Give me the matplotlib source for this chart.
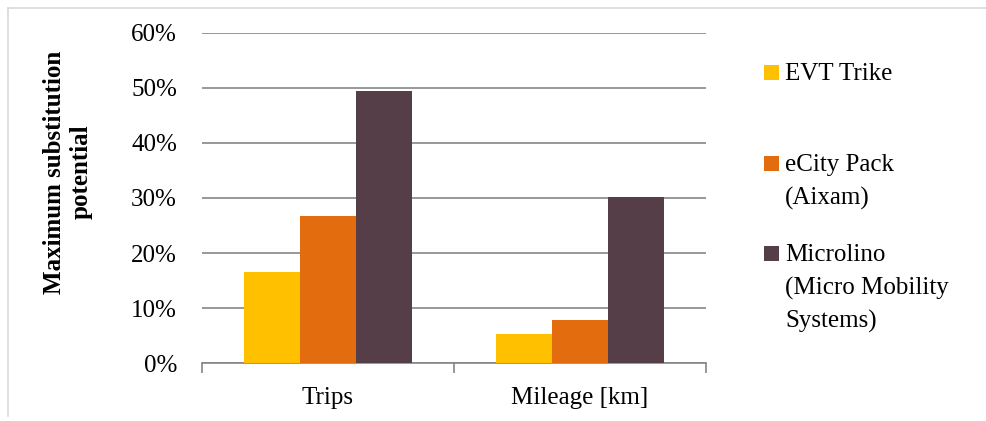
import matplotlib
matplotlib.use('Agg')
from matplotlib import pyplot as plt
from matplotlib.patches import Rectangle
from matplotlib.lines import Line2D
import numpy as np

categories = ['Trips', 'Mileage [km]']
series_names = ['EVT Trike', 'eCity Pack\n(Aixam)', 'Microlino\n(Micro Mobility\nSystems)']
values = {
    'EVT Trike': [16.6, 5.4],
    'eCity Pack': [26.7, 7.8],
    'Microlino': [49.4, 30.2],
}
colors = ['#FFC000', '#E36C0E', '#563E48']
yticks = [0, 10, 20, 30, 40, 50, 60]

plt.rcParams['font.family'] = ['Liberation Serif', 'DejaVu Serif']
fs = 18

fig = plt.figure(figsize=(9.87, 4.21), dpi=100)
ax = fig.add_axes([202 / 987, 1 - 363.3 / 421, 504 / 987, 330.6 / 421])

x = np.arange(len(categories))
w = 2 / 9
bars = []
for i, (name, vals) in enumerate(values.items()):
    b = ax.bar(x + (i - 1) * w, vals, width=w, color=colors[i], zorder=3)
    bars.append(b)

ax.set_xlim(-0.5, len(categories) - 0.5)
ax.set_ylim(0, 60)
ax.set_yticks(yticks)
ax.set_yticklabels([str(t) + '%' for t in yticks], fontsize=fs)
ax.yaxis.grid(True, color='#868686', linewidth=1.2, zorder=0)
ax.tick_params(axis='y', length=0, pad=18)

ax.set_xticks(x)
ax.set_xticklabels(categories, fontsize=fs)
ax.set_xticks([-0.5, 0.5, 1.5], minor=True)
ax.tick_params(axis='x', which='major', length=0, pad=17)
ax.tick_params(axis='x', which='minor', length=7, width=1.2, color='#868686', direction='out')

for s in ['top', 'right', 'left']:
    ax.spines[s].set_visible(False)
ax.spines['bottom'].set_color('#868686')
ax.spines['bottom'].set_linewidth(1.2)

fig.text(68 / 987, 1 - 172 / 421, 'Maximum substitution\npotential', rotation=90,
         ha='center', va='center', fontsize=fs, fontweight='bold', linespacing=1.2)

# legend drawn by hand so the squares sit on the first line of each label
legend_y = [73, 164, 254]
for i, name in enumerate(series_names):
    y = 1 - legend_y[i] / 421
    fig.patches.append(Rectangle((764 / 987, y - 7 / 421), 15 / 987, 15 / 421,
                                 transform=fig.transFigure, facecolor=bars[i][0].get_facecolor(),
                                 edgecolor='none'))
    fig.text(785 / 987, y + 10 / 421, name, ha='left', va='top', fontsize=fs, linespacing=1.6)

# outer chart frame
fig.add_artist(Line2D([8 / 987, 1], [1 - 8 / 421] * 2, transform=fig.transFigure,
                      color='#d9d9d9', linewidth=1.2))
fig.add_artist(Line2D([8 / 987] * 2, [1 - 8 / 421, 1 - 416 / 421], transform=fig.transFigure,
                      color='#d9d9d9', linewidth=1.2))

fig.savefig('out.png', dpi=100, facecolor='white')
